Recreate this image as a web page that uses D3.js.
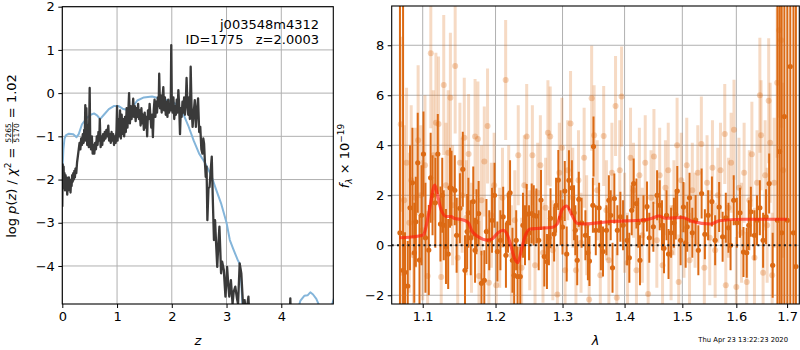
<!DOCTYPE html>
<html><head><meta charset="utf-8">
<script src="https://cdn.jsdelivr.net/npm/d3@7"></script>
<style>body{margin:0;background:#fff}svg{display:block}text{font-family:"DejaVu Sans",sans-serif;fill:#000}</style>
</head><body><svg id="c" width="800" height="350"></svg>
<script>
// ---------- DATA ----------
const leftXTicks = [0, 1, 2, 3, 4];
const leftYTicks = [-4, -3, -2, -1, 0, 1, 2];
const rightXTicks = [1.1, 1.2, 1.3, 1.4, 1.5, 1.6, 1.7];
const rightYTicks = [-2, 0, 2, 4, 6, 8];
const titleLines = ["j003548m4312", "ID=1775\u00a0\u00a0\u00a0z=2.0003"];
const dateText = "Thu Apr 23 13:22:23 2020";

// log p(z) (black, noisy) : [z, value]
const pzBlack = [
[0.000,-2.63],[0.008,-1.65],[0.016,-2.1],[0.024,-1.7],[0.032,-2.2],[0.040,-1.85],[0.050,-2.25],[0.060,-1.9],
[0.070,-2.15],[0.080,-1.95],[0.090,-2.35],[0.100,-2.05],[0.110,-2.25],[0.120,-1.95],[0.130,-2.2],[0.140,-2.0],
[0.150,-2.3],[0.160,-2.05],[0.170,-2.15],[0.180,-1.9],[0.190,-2.05],[0.200,-1.85],[0.210,-2.0],[0.220,-1.8],
[0.230,-1.95],[0.240,-1.75],[0.255,-1.85],[0.270,-1.6],[0.285,-1.45],[0.300,-1.3],[0.315,-1.15],[0.330,-1.3],
[0.345,-1.05],[0.360,-1.2],[0.375,-0.95],[0.390,-1.15],[0.400,-0.85],[0.410,-1.05],[0.420,-0.28],[0.430,-1.1],
[0.440,-0.35],[0.455,-1.2],[0.470,-0.75],[0.485,-1.25],[0.500,0.12],[0.510,-1.1],[0.525,-1.3],[0.540,-1.0],
[0.555,-1.4],[0.570,-1.2],[0.585,-1.4],[0.600,-1.15],[0.615,-1.3],[0.630,-1.0],[0.645,-1.2],[0.660,-0.9],
[0.675,-1.1],[0.685,-0.6],[0.700,-1.25],[0.715,-1.0],[0.730,-1.2],[0.745,-0.95],[0.760,-1.1],[0.775,-0.9],
[0.790,-1.05],[0.805,-0.85],[0.820,-1.0],[0.840,-0.75],[0.855,-1.1],[0.870,-0.95],[0.885,-1.15],[0.900,-0.9],
[0.915,-1.1],[0.930,-0.95],[0.945,-1.2],[0.960,-1.0],[0.975,-1.15],[0.990,-0.85],[1.000,-0.3],[1.010,-1.1],
[1.025,-0.6],[1.040,-1.0],[1.055,-0.4],[1.070,-1.05],[1.085,-0.5],[1.100,-0.95],[1.115,-0.6],[1.130,-1.0],
[1.145,-0.55],[1.160,-0.9],[1.175,-0.35],[1.190,-0.8],[1.205,-0.45],[1.220,0.0],[1.235,-0.7],[1.250,-0.3],
[1.265,-0.6],[1.280,-0.45],[1.295,-0.13],[1.310,-0.55],[1.325,-0.3],[1.340,-0.65],[1.355,-0.35],[1.370,-0.55],
[1.385,-0.25],[1.400,-0.6],[1.415,-0.4],[1.430,-0.75],[1.445,-0.35],[1.460,-0.7],[1.475,-0.5],[1.490,-0.85],
[1.505,-0.45],[1.520,-0.8],[1.535,-0.55],[1.550,-1.0],[1.565,-0.4],[1.580,-0.6],[1.595,-0.25],[1.610,-0.55],
[1.625,-0.8],[1.640,-0.5],[1.655,-1.02],[1.670,-0.4],[1.685,-0.15],[1.700,-0.55],[1.715,-0.2],[1.730,-0.45],
[1.745,-0.1],[1.760,-0.3],[1.770,0.45],[1.785,-0.35],[1.800,-0.05],[1.815,-0.45],[1.830,-0.15],[1.845,0.14],
[1.860,-0.4],[1.875,-0.1],[1.890,-0.5],[1.905,-0.2],[1.920,-0.55],[1.935,-0.15],[1.950,-0.45],[1.965,-0.25],
[1.980,-0.4],[1.990,1.11],[2.000,-0.2],[2.015,-0.45],[2.030,-0.1],[2.045,-0.6],[2.060,-0.3],[2.075,-0.5],
[2.090,-0.15],[2.105,-0.45],[2.120,0.07],[2.135,-0.3],[2.150,-0.95],[2.165,-0.35],[2.180,-0.55],[2.195,-0.2],
[2.210,-0.45],[2.225,-0.1],[2.240,-0.5],[2.255,-0.25],[2.270,0.35],[2.285,-0.2],[2.300,-0.5],[2.315,-0.1],
[2.330,-0.6],[2.345,0.61],[2.360,-0.3],[2.380,-0.78],[2.400,-0.45],[2.420,-0.16],[2.440,-0.78],[2.460,-0.4],
[2.480,-0.12],[2.500,-0.9],[2.520,-0.78],[2.540,-1.3],[2.560,-1.4],[2.575,-1.05],[2.590,-1.17],[2.605,-1.6],
[2.620,-1.94],[2.635,-1.7],[2.650,-2.94],[2.670,-2.2],[2.690,-2.17],[2.710,-1.8],[2.730,-1.47],[2.750,-2.5],
[2.770,-3.4],[2.790,-2.94],[2.810,-3.5],[2.830,-4.02],[2.850,-3.5],[2.870,-3.09],[2.885,-3.6],[2.900,-4.17],
[2.920,-3.9],[2.950,-4.09],[2.980,-4.71],[3.000,-4.3],[3.010,-4.02],[3.030,-4.4],[3.050,-4.71],[3.080,-4.33],
[3.110,-4.88],[3.130,-4.6],[3.160,-4.48],[3.190,-4.75],[3.210,-4.88],[3.240,-3.94],[3.270,-4.17],[3.300,-4.88],
[3.330,-4.79],[3.360,-5.1],[3.400,-4.71],[3.420,-5.3],[4.150,-5.3],[4.165,-4.75],[4.175,-5.3]
];

// smoothed p(z) curve (light blue) : [z, value]
const pzBlue = [
[0.0,-1.85],[0.02,-1.3],[0.04,-1.05],[0.07,-0.97],[0.12,-0.94],[0.2,-0.95],[0.26,-1.02],[0.3,-0.95],
[0.36,-0.72],[0.45,-0.57],[0.52,-0.5],[0.58,-0.47],[0.64,-0.52],[0.69,-0.6],[0.76,-0.5],[0.85,-0.37],
[0.94,-0.3],[1.03,-0.3],[1.1,-0.36],[1.19,-0.39],[1.28,-0.33],[1.37,-0.17],[1.49,-0.1],[1.64,-0.08],
[1.8,-0.13],[1.98,-0.18],[2.1,-0.27],[2.2,-0.45],[2.3,-0.75],[2.4,-1.1],[2.5,-1.4],[2.6,-1.6],
[2.72,-1.9],[2.8,-2.2],[2.9,-2.55],[3.0,-3.0],[3.06,-3.4],[3.12,-3.6],[3.2,-3.85],[3.24,-3.95],
[3.27,-4.4],[3.3,-5.1],[4.28,-5.1],[4.35,-4.8],[4.42,-4.69],[4.48,-4.68],[4.53,-4.61],[4.58,-4.66],
[4.64,-4.76],[4.72,-5.0],[4.9,-5.0],[4.97,-4.72]
];

// model spectrum (red) : [wavelength, flux]
const model = [
[1.070,0.30],[1.085,0.33],[1.097,0.38],[1.101,0.42],[1.108,1.28],[1.116,2.41],[1.120,1.95],[1.1246,1.41],
[1.1315,1.15],[1.138,1.15],[1.142,1.08],[1.1547,1.01],[1.1617,0.9],[1.166,0.6],[1.1755,0.34],[1.1894,0.2],
[1.196,0.27],[1.2036,0.5],[1.211,0.6],[1.216,0.48],[1.221,0.1],[1.2273,-0.5],[1.2322,-0.7],[1.238,-0.15],
[1.243,0.35],[1.2505,0.65],[1.2604,0.67],[1.285,0.72],[1.292,0.86],[1.299,1.41],[1.3065,1.57],[1.3146,1.21],
[1.3227,0.88],[1.3336,0.85],[1.3768,0.95],[1.4325,1.01],[1.447,1.08],[1.4585,1.17],[1.470,1.08],[1.5,1.11],
[1.5184,0.95],[1.552,0.85],[1.5675,0.98],[1.611,1.04],[1.700,1.04]
];

// spectrum, dark (high S/N) points : [wavelength, flux, error]
const darkPoints = [
[1.0705,0.5,12],[1.0745,-1.0,12],[1.0770,-1.08,1.6],[1.0805,-1.63,1.8],[1.0835,1.5,2.5],[1.0866,2.5,2.2],
[1.0890,-0.3,2.0],[1.0910,0.94,1.8],[1.0935,3.3,2.0],[1.0958,-0.59,1.8],[1.0985,1.2,2.0],[1.1010,3.65,1.7],
[1.1036,0.3,2.2],[1.1080,-0.19,1.8],[1.1105,2.7,1.8],[1.1130,2.0,1.6],[1.1167,1.7,1.8],[1.1200,3.65,1.6],
[1.1236,0.85,1.5],[1.1260,2.0,1.5],[1.1280,0.8,1.4],[1.1310,-0.05,1.5],[1.1340,-0.35,1.4],[1.1365,2.3,1.6],
[1.1385,2.28,1.5],[1.1430,2.2,1.4],[1.1455,0.4,1.5],[1.1500,1.48,1.4],[1.1540,3.04,1.5],[1.1570,-1.0,1.4],
[1.1600,0.55,1.5],[1.1617,1.3,1.4],[1.1650,0.3,1.5],[1.1685,1.75,1.4],[1.1710,-0.2,1.3],[1.1730,0.94,1.3],
[1.1760,1.27,1.3],[1.1800,-1.52,1.3],[1.1840,-1.4,1.2],[1.1870,0.55,1.3],[1.1910,0.2,1.2],[1.1950,1.0,1.3],
[1.1985,2.0,1.3],[1.2026,-0.25,1.2],[1.2070,0.2,1.2],[1.2110,1.14,1.2],[1.2150,-0.4,1.3],[1.2180,0.9,1.2],
[1.2210,2.1,1.3],[1.2245,-0.6,1.3],[1.2270,-1.2,1.2],[1.2300,0.2,1.2],[1.2320,-1.25,1.2],[1.2360,-1.25,1.2],
[1.2400,0.8,1.3],[1.2430,0.4,1.2],[1.2455,1.25,1.2],[1.2490,0.5,1.1],[1.2530,1.27,1.2],[1.2560,1.2,1.2],
[1.2600,1.17,1.1],[1.2635,0.2,1.2],[1.2670,1.81,1.2],[1.2720,-0.45,1.2],[1.2760,-0.65,1.1],[1.2790,0.3,1.1],
[1.2815,1.08,1.2],[1.2870,0.45,1.1],[1.2900,1.6,1.1],[1.2935,2.61,1.2],[1.2970,1.1,1.1],[1.3000,0.73,1.1],
[1.3035,2.17,1.2],[1.3065,-0.35,1.1],[1.3100,2.6,1.2],[1.3146,2.3,1.1],[1.3180,1.3,1.1],[1.3200,0.6,1.0],
[1.3230,-0.6,1.0],[1.3255,1.84,1.1],[1.3300,0.9,1.0],[1.3360,0.4,1.0],[1.3400,-0.3,1.1],[1.3425,-0.63,1.0],
[1.3480,1.6,1.1],[1.3490,3.95,1.2],[1.3527,0.6,1.0],[1.3580,1.5,1.0],[1.3610,0.0,1.0],[1.3644,-0.25,1.0],
[1.3700,0.6,1.0],[1.3740,1.8,1.0],[1.3770,1.2,1.0],[1.3800,-0.9,1.0],[1.3830,1.87,1.0],[1.3880,0.6,1.0],
[1.3930,1.14,1.0],[1.3975,0.8,1.0],[1.4043,0.2,1.0],[1.4080,-0.5,1.0],[1.4120,1.4,1.0],[1.4153,2.47,1.0],
[1.4200,1.67,1.0],[1.4230,0.9,1.0],[1.4260,-0.6,1.0],[1.4320,1.0,1.0],[1.4380,1.55,1.0],[1.4420,0.3,1.0],
[1.4490,0.74,1.0],[1.4555,2.0,1.0],[1.4600,1.6,1.0],[1.4640,0.8,1.0],[1.4675,-0.12,1.0],[1.4720,1.2,1.0],
[1.4755,-0.35,1.0],[1.4800,0.5,1.0],[1.4850,0.9,1.0],[1.4883,1.23,1.0],[1.4910,2.17,1.0],[1.4970,0.2,1.0],
[1.5020,1.53,1.0],[1.5060,0.1,1.0],[1.5088,0.74,1.0],[1.5130,1.9,1.0],[1.5180,0.5,1.0],[1.5240,1.01,1.0],
[1.5290,-0.2,1.0],[1.5350,2.07,1.0],[1.5410,0.44,1.0],[1.5470,1.2,1.0],[1.5540,1.75,1.0],[1.5600,0.2,1.0],
[1.5675,1.53,1.0],[1.5740,0.34,1.0],[1.5800,1.1,1.0],[1.5850,0.7,1.0],[1.5890,0.0,1.0],[1.5950,1.8,1.0],
[1.6010,0.9,1.0],[1.6070,1.3,1.0],[1.6137,-0.27,1.0],[1.6200,-0.3,1.0],[1.6240,0.8,1.0],[1.6280,1.34,1.0],
[1.6350,0.4,1.0],[1.6400,1.0,1.0],[1.6456,1.5,1.1],[1.6520,0.2,1.1],[1.6578,1.14,1.1],[1.6640,2.47,1.2],
[1.6710,-0.8,1.3],[1.6805,1.0,12],[1.6850,3.75,12],[1.6890,0.5,12],[1.6945,5.15,12],[1.7006,1.0,12],
[1.7065,7.15,12],[1.7130,0.5,12],[1.7180,-0.85,12]
];

// spectrum, light (low S/N) points : [wavelength, flux, error]
const lightPoints = [
[1.0715,4.84,3.5],[1.0735,-1.1,3.0],[1.0760,1.8,3.0],[1.0790,3.3,3.0],[1.0825,0.9,2.8],[1.0850,2.6,3.0],
[1.0880,-0.4,2.8],[1.0905,1.9,2.8],[1.0940,4.2,3.0],[1.0975,2.0,2.8],[1.1000,0.6,2.8],[1.1030,3.2,2.8],
[1.1065,-1.23,2.6],[1.1107,7.68,3.0],[1.1140,3.6,2.6],[1.1175,4.9,2.8],[1.1210,4.85,2.7],[1.1246,-1.27,2.5],
[1.1280,6.41,2.8],[1.1310,2.4,2.5],[1.1340,3.7,2.5],[1.1370,5.9,2.6],[1.1400,1.6,2.4],[1.1435,7.17,2.7],
[1.1470,-0.5,2.4],[1.1500,3.3,2.4],[1.1530,2.0,2.3],[1.1560,4.3,2.4],[1.1590,1.1,2.3],[1.1620,3.65,2.4],
[1.1660,0.3,2.2],[1.1710,4.35,2.3],[1.1750,4.25,2.3],[1.1765,-1.23,2.2],[1.1800,1.8,2.2],[1.1840,3.35,2.2],
[1.1886,4.77,2.3],[1.1905,-1.5,2.2],[1.1940,1.2,2.1],[1.1980,2.4,2.1],[1.2010,-1.6,2.1],[1.2060,0.3,2.0],
[1.2100,1.9,2.0],[1.2146,6.61,2.4],[1.2190,2.0,2.0],[1.2230,-0.4,2.0],[1.2280,1.0,2.0],[1.2330,3.6,2.0],
[1.2380,-0.9,2.0],[1.2420,2.4,2.0],[1.2455,4.35,2.1],[1.2500,0.2,2.0],[1.2540,3.6,2.0],[1.2580,-0.8,2.0],
[1.2620,2.1,2.0],[1.2660,3.2,2.0],[1.2700,-0.3,2.0],[1.2740,1.5,2.0],[1.2775,4.5,2.1],[1.2810,4.35,2.0],
[1.2850,-0.2,2.0],[1.2920,-1.97,2.0],[1.2950,2.9,2.0],[1.2990,3.9,2.0],[1.3040,-1.0,2.0],[1.3080,3.0,2.0],
[1.3125,4.87,2.1],[1.3160,1.9,2.0],[1.3210,-1.0,2.0],[1.3250,2.6,2.0],[1.3290,0.1,2.0],[1.3340,3.5,2.0],
[1.3380,0.8,2.0],[1.3420,-2.17,2.0],[1.3460,5.88,2.1],[1.3500,4.4,2.0],[1.3550,2.2,2.0],[1.3600,-1.2,2.0],
[1.3655,4.37,2.0],[1.3700,1.4,2.0],[1.3740,-0.6,2.0],[1.3790,2.9,2.0],[1.3850,5.57,2.0],[1.3870,-2.1,2.0],
[1.3920,3.0,2.0],[1.3950,5.95,2.0],[1.4000,0.9,2.0],[1.4050,-0.7,2.0],[1.4100,3.5,2.0],[1.4150,2.2,1.9],
[1.4200,-1.0,1.9],[1.4250,2.8,1.9],[1.4300,0.4,1.9],[1.4350,3.3,1.9],[1.4400,-1.95,1.9],[1.4450,1.9,1.9],
[1.4500,3.55,1.9],[1.4550,0.2,1.9],[1.4600,2.8,1.9],[1.4650,-0.8,1.9],[1.4700,2.3,1.9],[1.4750,3.0,1.9],
[1.4800,-0.3,1.9],[1.4850,1.5,1.9],[1.4907,4.0,1.9],[1.4935,-1.47,1.9],[1.4980,2.6,1.9],[1.5030,0.6,1.9],
[1.5080,3.2,1.9],[1.5130,-0.6,1.9],[1.5180,2.2,1.9],[1.5230,1.0,1.9],[1.5280,2.9,1.9],[1.5345,4.05,1.9],
[1.5400,-0.9,1.9],[1.5450,2.5,1.9],[1.5500,0.3,1.9],[1.5550,3.1,1.9],[1.5600,-0.2,1.9],[1.5650,2.0,1.9],
[1.5700,3.0,1.9],[1.5780,4.45,2.0],[1.5800,-1.6,2.0],[1.5850,1.5,2.0],[1.5900,3.3,2.0],[1.5955,4.62,2.0],
[1.6000,-1.67,2.0],[1.6050,2.3,2.0],[1.6100,0.5,2.0],[1.6150,2.9,2.0],[1.6200,-1.47,2.0],[1.6250,1.8,2.0],
[1.6300,3.64,2.1],[1.6350,-0.5,2.0],[1.6400,2.5,2.1],[1.6456,6.0,2.3],[1.6480,4.4,2.2],[1.6520,-1.1,2.2],
[1.6560,2.8,2.2],[1.6600,0.8,2.3],[1.6630,5.78,2.5],[1.6660,4.1,2.4],[1.6700,-1.2,2.5],[1.6740,2.5,2.6],
[1.6800,6.5,3.0],[1.6840,8.6,3.5],[1.6880,8.2,3.5],[1.6920,3.0,3.5]
];

// ---------- DRAWING ----------
const svg = d3.select('#c');
const FS = 13;
const DARK = '#dc6a14';
const GRID = '#b0b0b0';

const L = {x0: 62.3, x1: 333.3, y0: 6.7, y1: 304};
const R = {x0: 391.7, x1: 799.3, y0: 6, y1: 304};

const xL = d3.scaleLinear().domain([0, 4.95]).range([L.x0, L.x1]);
const yL = d3.scaleLinear().domain([-4.88, 2]).range([L.y1, L.y0]);
const xR = d3.scaleLog().domain([1.06, 1.725]).range([R.x0, R.x1]);
const yR = d3.scaleLinear().domain([-2.35, 9.57]).range([R.y1, R.y0]);

const defs = svg.append('defs');
function clip(id, b) {
  defs.append('clipPath').attr('id', id).append('rect')
    .attr('x', b.x0).attr('y', b.y0).attr('width', b.x1 - b.x0).attr('height', b.y1 - b.y0);
}
clip('cl', L); clip('cr', R);

function grid(b, xs, ys, xt, yt) {
  const g = svg.append('g');
  g.selectAll('.gx').data(xt).join('line')
    .attr('x1', d => xs(d)).attr('x2', d => xs(d)).attr('y1', b.y0).attr('y2', b.y1)
    .attr('stroke', GRID).attr('stroke-width', 1);
  g.selectAll('.gy').data(yt).join('line')
    .attr('y1', d => ys(d)).attr('y2', d => ys(d)).attr('x1', b.x0).attr('x2', b.x1)
    .attr('stroke', GRID).attr('stroke-width', 1);
}
grid(L, xL, yL, leftXTicks, leftYTicks);
grid(R, xR, yR, rightXTicks, rightYTicks);

// left panel lines
const gl = svg.append('g').attr('clip-path', 'url(#cl)');
gl.append('path').datum(pzBlue)
  .attr('d', d3.line().x(d => xL(d[0])).y(d => yL(d[1])))
  .attr('fill', 'none').attr('stroke', '#84b5da').attr('stroke-width', 2).attr('stroke-linejoin', 'round');
gl.append('path').datum(pzBlack)
  .attr('d', d3.line().x(d => xL(d[0])).y(d => yL(d[1])))
  .attr('fill', 'none').attr('stroke', '#3a3a3a').attr('stroke-width', 2.3).attr('stroke-linejoin', 'round');

// right panel
const gr = svg.append('g').attr('clip-path', 'url(#cr)');
gr.append('g').selectAll('line').data(lightPoints).join('line')
  .attr('x1', d => xR(d[0])).attr('x2', d => xR(d[0]))
  .attr('y1', d => yR(d[1] - d[2])).attr('y2', d => yR(d[1] + d[2]))
  .attr('stroke', DARK).attr('stroke-opacity', 0.25).attr('stroke-width', 3);
gr.append('g').selectAll('circle').data(lightPoints).join('circle')
  .attr('cx', d => xR(d[0])).attr('cy', d => yR(d[1])).attr('r', 3)
  .attr('fill', DARK).attr('fill-opacity', 0.3);
gr.append('g').selectAll('line').data(darkPoints).join('line')
  .attr('x1', d => xR(d[0])).attr('x2', d => xR(d[0]))
  .attr('y1', d => yR(d[1] - d[2])).attr('y2', d => yR(d[1] + d[2]))
  .attr('stroke', DARK).attr('stroke-width', 2);
gr.append('g').selectAll('circle').data(darkPoints).join('circle')
  .attr('cx', d => xR(d[0])).attr('cy', d => yR(d[1])).attr('r', 2.6)
  .attr('fill', DARK);
gr.append('line')
  .attr('x1', R.x0).attr('x2', R.x1).attr('y1', yR(0)).attr('y2', yR(0))
  .attr('stroke', '#1a1a1a').attr('stroke-width', 2).attr('stroke-dasharray', '2,3.3');
gr.append('path').datum(model)
  .attr('d', d3.line().x(d => xR(d[0])).y(d => yR(d[1])).curve(d3.curveMonotoneX))
  .attr('fill', 'none').attr('stroke', '#ff1a0a').attr('stroke-opacity', 0.65).attr('stroke-width', 3.2)
  .attr('stroke-linejoin', 'round');

// frames & axes
function frame(b) {
  svg.append('rect').attr('x', b.x0).attr('y', b.y0).attr('width', b.x1 - b.x0).attr('height', b.y1 - b.y0)
    .attr('fill', 'none').attr('stroke', '#000').attr('stroke-width', 1.1);
}
frame(L); frame(R);

function axes(b, xs, ys, xt, yt, xfmt, yfmt) {
  const ax = svg.append('g').attr('transform', `translate(0,${b.y1})`)
    .call(d3.axisBottom(xs).tickValues(xt).tickFormat(xfmt).tickSize(4).tickPadding(3.5));
  const ay = svg.append('g').attr('transform', `translate(${b.x0},0)`)
    .call(d3.axisLeft(ys).tickValues(yt).tickFormat(yfmt).tickSize(4).tickPadding(3.5));
  [ax, ay].forEach(a => {
    a.select('.domain').remove();
    a.selectAll('.tick line').attr('stroke', '#000').attr('stroke-width', 1);
    a.selectAll('.tick text').attr('font-size', FS).attr('font-family', 'DejaVu Sans').attr('fill', '#000');
  });
}
axes(L, xL, yL, leftXTicks, leftYTicks, d3.format('d'), d3.format('d'));
axes(R, xR, yR, rightXTicks, rightYTicks, d3.format('.1f'), d3.format('d'));

// annotation
titleLines.forEach((t, i) => {
  svg.append('text').attr('x', 319).attr('y', 28.5 + i * 15.3).attr('text-anchor', 'end')
    .attr('font-size', FS).text(t);
});

// x labels
svg.append('text').attr('x', (L.x0 + L.x1) / 2).attr('y', 345).attr('text-anchor', 'middle')
  .attr('font-size', FS).attr('font-style', 'italic').text('z');
svg.append('text').attr('x', (R.x0 + R.x1) / 2).attr('y', 345).attr('text-anchor', 'middle')
  .attr('font-size', FS).attr('font-style', 'italic').text('λ');

// date
svg.append('text').attr('x', 788).attr('y', 342).attr('text-anchor', 'end')
  .attr('font-size', 6.8).text(dateText);

// rotated labels built from pieces
function rotLabel(cx, cy, pieces) {
  const g = svg.append('g').attr('transform', `translate(${cx},${cy}) rotate(-90)`);
  let x = 0;
  const items = [];
  pieces.forEach(p => {
    if (p.frac) {
      const n = g.append('text').attr('font-size', p.fs).attr('y', p.ny).text(p.num);
      const d = g.append('text').attr('font-size', p.fs).attr('y', p.dy).text(p.den);
      const w = Math.max(n.node().getComputedTextLength(), d.node().getComputedTextLength()) + 2;
      const bar = g.append('line').attr('y1', p.by).attr('y2', p.by).attr('stroke', '#000').attr('stroke-width', 0.7);
      items.push({x, w, fn: (ox) => {
        n.attr('x', ox + 1 + (w - 2 - n.node().getComputedTextLength()) / 2);
        d.attr('x', ox + 1 + (w - 2 - d.node().getComputedTextLength()) / 2);
        bar.attr('x1', ox).attr('x2', ox + w);
      }});
      x += w;
    } else {
      const t = g.append('text').attr('font-size', p.fs || FS).attr('y', p.y || 0)
        .attr('font-style', p.it ? 'italic' : 'normal').text(p.t.replace(/ /g, '\u00a0'));
      const w = t.node().getComputedTextLength();
      items.push({x, w, fn: (ox) => t.attr('x', ox)});
      x += w;
    }
  });
  const off = -x / 2;
  items.forEach(it => it.fn(it.x + off));
}

rotLabel(16, 156, [
  {t: 'log '}, {t: 'p', it: true}, {t: '('}, {t: 'z', it: true}, {t: ') / '},
  {t: 'χ', it: true}, {t: '2', fs: 9, y: -5}, {t: ' = '},
  {frac: true, num: '5265', den: '5170', fs: 7.5, ny: -4.8, dy: 3.2, by: -3.4},
  {t: ' = 1.02'}
]);
rotLabel(349, 156, [
  {t: 'f', it: true}, {t: 'λ', it: true, fs: 9, y: 3}, {t: ' × 10'}, {t: '−19', fs: 9, y: -5}
]);
</script></body></html>
